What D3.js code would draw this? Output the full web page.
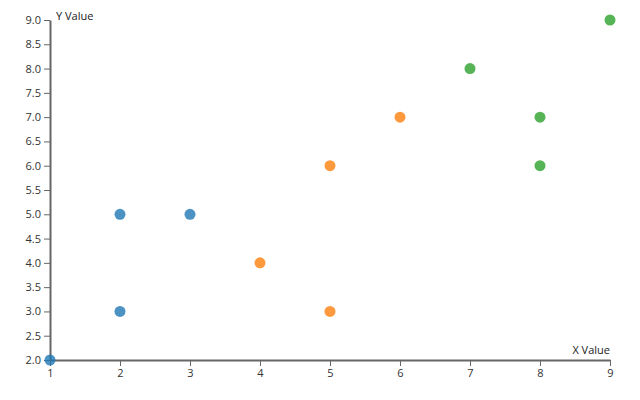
<!DOCTYPE html>
<html>
<head>
<meta charset="utf-8">
<script src="https://d3js.org/d3.v7.js"></script>
<style>
  body { margin: 0; background: #fff; }
  svg { font-family: "Open Sans", sans-serif; }
  .axis path, .axis line { stroke: #666; }
  .axis path { stroke-width: 2px; }
  .axis text { fill: #333; font-size: 11px; font-family: "Open Sans", sans-serif; }
  .label { fill: #222; font-size: 11px; }
</style>
</head>
<body>
<svg width="640" height="400"></svg>
<script>
var groups = ["A", "B", "C"];
var xValues = [1, 2, 2, 3, 4, 5, 5, 6, 7, 8, 8, 9];
var yValues = [2, 3, 5, 5, 4, 3, 6, 7, 8, 7, 6, 9];
var pointGroup = ["A", "A", "A", "A", "B", "B", "B", "B", "C", "C", "C", "C"];
var yTicks = [2, 2.5, 3, 3.5, 4, 4.5, 5, 5.5, 6, 6.5, 7, 7.5, 8, 8.5, 9];

var svg = d3.select("svg");
var margin = {top: 20, right: 30, bottom: 40, left: 50},
    width = 640 - margin.left - margin.right,
    height = 400 - margin.top - margin.bottom;
var g = svg.append("g").attr("transform", `translate(${margin.left}, ${margin.top})`);

var x = d3.scaleLinear().domain([1, 9]).range([0, width]);
var y = d3.scaleLinear().domain([2, 9]).range([height, 0]);
var color = d3.scaleOrdinal().domain(groups).range(d3.schemeCategory10);

g.append("g")
  .attr("class", "axis")
  .attr("transform", `translate(0, ${height})`)
  .call(d3.axisBottom(x).ticks(8).tickSizeOuter(0));

g.append("g")
  .attr("class", "axis")
  .call(d3.axisLeft(y).tickValues(yTicks).tickFormat(d3.format(".1f")).tickSizeOuter(0));

var data = xValues.map(function(d, i) {
  return {x: d, y: yValues[i], group: pointGroup[i]};
});

g.selectAll("circle")
  .data(data)
  .enter().append("circle")
  .attr("cx", d => x(d.x))
  .attr("cy", d => y(d.y))
  .attr("r", 5.5)
  .attr("fill", d => color(d.group))
  .attr("opacity", 0.8);

g.append("text")
  .attr("class", "label")
  .attr("x", 6)
  .attr("y", 0)
  .text("Y Value");

g.append("text")
  .attr("class", "label")
  .attr("x", width)
  .attr("y", height - 6)
  .attr("text-anchor", "end")
  .text("X Value");
</script>
</body>
</html>
